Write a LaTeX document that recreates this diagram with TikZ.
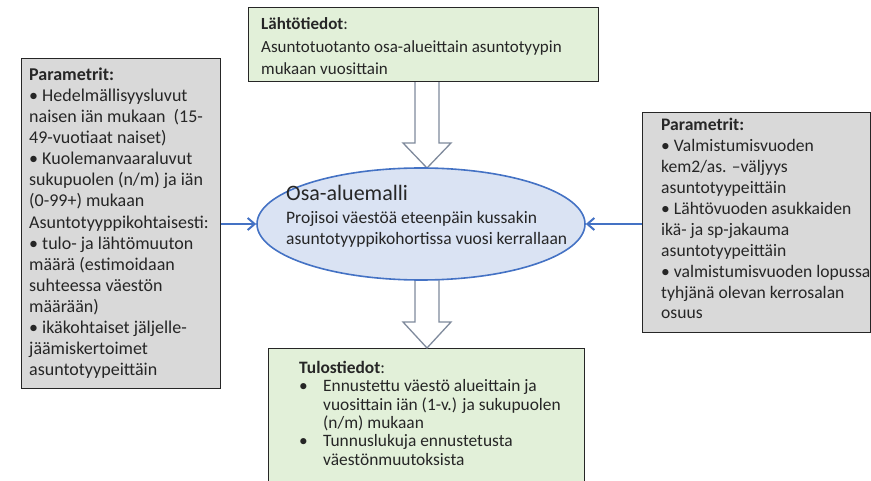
\documentclass[tikz,border=0pt]{standalone}
\usepackage{fontspec}
\setmainfont{Carlito}
\usetikzlibrary{arrows.meta,calc,shapes.geometric}
\definecolor{boxgreen}{HTML}{E2F0D9}
\definecolor{boxgray}{HTML}{D9D9D9}
\definecolor{ellfill}{HTML}{DAE3F3}
\definecolor{ellline}{HTML}{4472C4}
\definecolor{txt}{HTML}{262626}
\definecolor{blockline}{HTML}{7F8A9C}

\begin{document}
\begin{tikzpicture}[x=1pt,y=-1pt,
  panel/.style={draw=black!85,line width=1.2pt,anchor=north west,inner sep=0pt},
  greenpanel/.style={panel,fill=boxgreen},
  graypanel/.style={panel,fill=boxgray},
  % multi-line texts are placed by the baseline of their last line
  body/.style={anchor=base west,align=left,inner sep=0pt,text=txt},
  feed/.style={draw=ellline,line width=2pt,-{Straight Barb[length=7pt,width=12pt]}},
  blockarrow/.style={draw=blockline,line width=1.3pt,fill=white,line join=miter}
]
\useasboundingbox (0,0) rectangle (871,481);
\clip (0,0) rectangle (871,481);

% panels
\node[greenpanel,minimum width=350pt,minimum height=74pt] (src) at (248,7) {};
\node[graypanel,minimum width=199pt,minimum height=330pt] (lpar) at (21,58) {};
\node[graypanel,minimum width=228pt,minimum height=220pt] (rpar) at (642,112) {};
\node[greenpanel,minimum width=316pt,minimum height=160pt] (out) at (268,348) {};

% block arrows into and out of the model
\draw[blockarrow] (415,0 |- src.south) -- (415,143) -- (403,143)
  -- (427,168) -- (451,143) -- (439,143) -- (439,0 |- src.south);
\draw[blockarrow] (415,279) -- (415,322) -- (403,322)
  -- (427,0 |- out.north) -- (451,322) -- (439,322) -- (439,279);

% the model
\node[ellipse,draw=ellline,line width=1.6pt,fill=ellfill,minimum width=328pt,
  minimum height=112pt,inner sep=0pt] (model) at (421,224) {};

% parameter feeds
\draw[feed] (lpar.east |- model.west) -- (model.west);
\draw[feed] (rpar.west |- model.east) -- (model.east);

% texts
\node[body,font=\fontsize{17}{22.5}\selectfont] (srctext) at (261,75)
  {\textbf{Lähtötiedot}:\\Asuntotuotanto osa-alueittain asuntotyypin\\mukaan vuosittain};

\node[body,font=\fontsize{18}{21.07}\selectfont] (ltext) at (29,375.5)
  {\textbf{Parametrit:}\\
   • Hedelmällisyysluvut\\
   naisen iän mukaan\ \ (15-\\
   49-vuotiaat naiset)\\
   • Kuolemanvaaraluvut\\
   sukupuolen (n/m) ja iän\\
   (0-99+) mukaan\\
   Asuntotyyppikohtaisesti:\\
   • tulo- ja lähtömuuton\\
   määrä (estimoidaan\\
   suhteessa väestön\\
   määrään)\\
   • ikäkohtaiset jäljelle-\\
   jäämiskertoimet\\
   asuntotyypeittäin};

\node[body,font=\fontsize{17.6}{20.9}\selectfont] (rtext) at (661,319)
  {\textbf{Parametrit:}\\
   • Valmistumisvuoden\\
   kem2/as. –väljyys\\
   asuntotyypeittäin\\
   • Lähtövuoden asukkaiden\\
   ikä- ja sp-jakauma\\
   asuntotyypeittäin\\
   • valmistumisvuoden lopussa\\
   tyhjänä olevan kerrosalan\\
   osuus};

\node[body,font=\fontsize{22}{26}\selectfont] (mtitle) at (286,201) {Osa-aluemalli};
\node[body,font=\fontsize{17.5}{20.5}\selectfont] (mtext) at (286,244.5)
  {Projisoi väestöä eteenpäin kussakin\\asuntotyyppikohortissa vuosi kerrallaan};

\node[body,font=\fontsize{17.4}{18.3}\selectfont] (outtext) at (299,465)
  {\textbf{Tulostiedot}:\\
   \makebox[24pt][l]{•}Ennustettu väestö alueittain ja\\
   \hspace*{24pt}vuosittain iän (1-v.) ja sukupuolen\\
   \hspace*{24pt}(n/m) mukaan\\
   \makebox[24pt][l]{•}Tunnuslukuja ennustetusta\\
   \hspace*{24pt}väestönmuutoksista};
\end{tikzpicture}
\end{document}
